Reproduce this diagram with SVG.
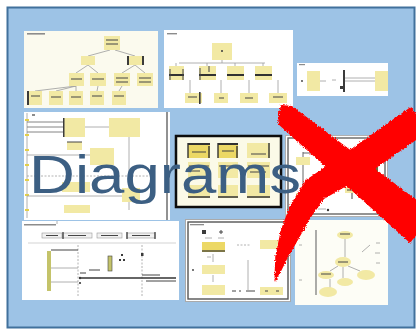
<svg xmlns="http://www.w3.org/2000/svg" width="416" height="330" viewBox="0 0 416 330">
  <style>
    .pane { fill: #ffffff; }
    .cream { fill: #fbfaee; }
    .bx { fill: #f2e9a4; }
    .bxs { fill: #ecd865; }
    .dk { fill: #3a3a3a; }
    .gr { fill: #8c8c8c; }
    .ln { stroke: #9c9c9c; stroke-width: 0.8; fill: none; }
    .lnd { stroke: #444; stroke-width: 1; fill: none; }
    .dash { stroke: #a0a0a0; stroke-width: 0.8; stroke-dasharray: 2 1.5; fill: none; }
    .brush { fill: #ff0000; }
    .title { font-family: "Liberation Sans", Arial, sans-serif; font-size: 54px; fill: #3c5f83; }
  </style>
  <defs>
    <filter id="soft" x="-5%" y="-5%" width="110%" height="110%">
      <feGaussianBlur stdDeviation="0.45"/>
    </filter>
    <filter id="rough" x="-10%" y="-10%" width="120%" height="120%">
      <feTurbulence type="fractalNoise" baseFrequency="0.7" numOctaves="2" seed="3" result="n"/>
      <feDisplacementMap in="SourceGraphic" in2="n" scale="3.5" xChannelSelector="R" yChannelSelector="G"/>
    </filter>
  </defs>

  <!-- background panel -->
  <rect x="7.5" y="7.5" width="407" height="320" fill="#9dc3e6" stroke="#41719c" stroke-width="2"/>

  <!-- tree diagram -->
  <g id="thumb-tree" filter="url(#soft)">
    <rect class="cream" x="24" y="31" width="134" height="77"/>
    <rect class="gr" x="27" y="33" width="18" height="1.6"/>
    <path class="ln" d="M110 50 L88 56 M115 50 L135 56 M88 65 L76 73 M88 65 L98 73 M135 65 L122 73 M135 65 L145 73 M76 86 L35 91 M76 86 L56 91 M76 86 L76 91 M98 86 L97 91 M122 86 L119 91"/>
    <rect class="bx" x="104" y="36" width="16" height="14"/>
    <path class="lnd" d="M106 40 H118 M106 44 H118"/>
    <rect class="bx" x="81" y="56" width="14" height="9"/>
    <rect class="bx" x="127" y="56" width="17" height="9"/>
    <rect class="dk" x="127" y="56" width="2" height="9"/>
    <rect class="dk" x="142" y="56" width="2" height="9"/>
    <rect class="bx" x="69" y="73" width="15" height="13"/>
    <rect class="bx" x="90" y="73" width="16" height="13"/>
    <rect class="bx" x="114" y="73" width="16" height="13"/>
    <rect class="bx" x="137" y="73" width="16" height="13"/>
    <path class="lnd" d="M71 79 H82 M92 79 H104 M116 78 H128 M116 82 H128 M139 78 H151 M139 82 H151"/>
    <rect class="bx" x="27" y="91" width="15" height="14"/>
    <rect class="bx" x="49" y="91" width="14" height="14"/>
    <rect class="bx" x="69" y="91" width="14" height="14"/>
    <rect class="bx" x="90" y="91" width="14" height="14"/>
    <rect class="bx" x="112" y="91" width="14" height="14"/>
    <rect class="dk" x="27" y="91" width="2" height="14"/>
    <path class="lnd" d="M31 96 H40 M51 97 H61 M71 97 H81 M92 96 H102 M114 96 H124"/>
  </g>

  <!-- class hierarchy -->
  <g id="thumb-hierarchy" filter="url(#soft)">
    <rect class="pane" x="164" y="30" width="129" height="78"/>
    <rect class="gr" x="167" y="33" width="10" height="1.4"/>
    <rect class="bx" x="212" y="43" width="20" height="17"/>
    <circle class="dk" cx="222" cy="51" r="1"/>
    <path class="ln" d="M222 60 V63 M179 63 H265 M176 63 V66 M207 63 V66 M235 63 V66 M263 63 V66 M190 80 V93 M221 80 V93 M249 80 V93 M278 80 V93"/>
    <rect class="bx" x="169" y="66" width="15" height="14"/>
    <rect class="bx" x="199" y="66" width="17" height="14"/>
    <rect class="bx" x="227" y="66" width="17" height="14"/>
    <rect class="bx" x="255" y="66" width="17" height="14"/>
    <path d="M169 75 H184 M199 75 H216 M227 75 H244 M255 75 H272" stroke="#333" stroke-width="2"/>
    <path class="lnd" d="M170 69 V80 M183 69 V80 M200 68 V80 M209 66 V72"/>
    <rect class="bx" x="185" y="93" width="17" height="10"/>
    <rect class="bx" x="214" y="93" width="14" height="10"/>
    <rect class="bx" x="240" y="93" width="18" height="10"/>
    <rect class="bx" x="269" y="93" width="18" height="10"/>
    <rect class="dk" x="199" y="92" width="1.6" height="12"/>
    <path class="lnd" d="M188 97 H197 M219 98 H224 M245 98 H253 M273 97 H283"/>
  </g>

  <!-- small flow strip -->
  <g id="thumb-flow" filter="url(#soft)">
    <rect class="pane" x="297" y="63" width="91" height="33"/>
    <rect class="gr" x="299" y="64" width="6" height="1.2"/>
    <rect class="bx" x="307" y="71" width="13" height="20"/>
    <circle class="dk" cx="302" cy="81" r="0.9"/>
    <path class="ln" d="M320 81 H326 M332 80 H336"/>
    <rect class="dk" x="343" y="70" width="2" height="22"/>
    <rect class="dk" x="340" y="86" width="3" height="3"/>
    <path class="ln" d="M345 78 H375 M345 81 H375"/>
    <rect class="bx" x="375" y="71" width="13" height="20"/>
  </g>

  <!-- activity / lane diagram -->
  <g id="thumb-lanes" filter="url(#soft)">
    <rect class="pane" x="24" y="112" width="146" height="108"/>
    <rect class="gr" x="32" y="114" width="3" height="2"/>
    <path class="ln" d="M27 113 V218"/>
    <path d="M25 120 H29 M25 135 H29 M25 150 H29 M25 165 H29 M25 180 H29 M25 195 H29 M25 210 H29" stroke="#e2cf4c" stroke-width="2"/>
    <path d="M27 122 H64 M27 127 H64 M27 132 H64" stroke="#777" stroke-width="0.9"/>
    <path class="ln" d="M85 127 H109 M27 155 H90 M27 196 H122 M129 137 V210"/>
    <path class="dash" d="M27 176 H150"/>
    <rect class="bx" x="64" y="118" width="21" height="19"/>
    <rect class="dk" x="63" y="118" width="1.5" height="19"/>
    <rect class="bx" x="109" y="118" width="31" height="19"/>
    <rect class="bx" x="67" y="142" width="15" height="8"/>
    <path class="lnd" d="M67 142 H82"/>
    <rect class="bx" x="90" y="148" width="24" height="17"/>
    <rect class="bx" x="62" y="182" width="28" height="10"/>
    <rect class="bx" x="122" y="188" width="18" height="14"/>
    <rect class="bx" x="64" y="205" width="26" height="8"/>
    <path d="M167 112 V220" stroke="#777" stroke-width="1.6"/>
  </g>

  <!-- framed class grid -->
  <g id="thumb-grid" filter="url(#soft)">
    <rect x="176" y="136" width="105" height="71" fill="#fbfae8" stroke="#111" stroke-width="2.5"/>
    <rect class="bxs" x="188" y="143" width="22" height="15"/>
    <rect class="bxs" x="218" y="143" width="20" height="15"/>
    <rect class="bx" x="247" y="143" width="23" height="15"/>
    <path d="M188 144 H210 M218 144 H238" stroke="#333" stroke-width="2"/>
    <path d="M188 143 V158 M209 146 V158 M218 143 V158 M237 146 V158 M269 143 V158" stroke="#333" stroke-width="1.4"/>
    <path class="lnd" d="M192 152 H206 M222 151 H234 M251 154 H266"/>
    <rect class="bx" x="188" y="162" width="22" height="16"/>
    <rect class="bx" x="218" y="162" width="20" height="16"/>
    <rect class="bx" x="247" y="162" width="23" height="16"/>
    <path class="lnd" d="M189 166 H209 M219 166 H237 M248 166 H269 M190 171 H200 M250 172 H266"/>
    <rect class="bx" x="188" y="185" width="22" height="13"/>
    <rect class="bx" x="218" y="185" width="20" height="13"/>
    <rect class="bx" x="247" y="185" width="23" height="13"/>
    <path d="M188 197 H210 M218 197 H238 M247 197 H270" stroke="#333" stroke-width="1.5"/>
  </g>

  <!-- framed component sketch -->
  <g id="thumb-component" filter="url(#soft)">
    <rect x="285.5" y="135.5" width="102" height="81" fill="#ffffff" stroke="#b0b0b0" stroke-width="1"/>
    <rect x="288" y="138" width="97" height="76" fill="none" stroke="#666" stroke-width="1.4"/>
    <path d="M303 152 V210 M303 153 H375" stroke="#666" stroke-width="1"/>
    <rect class="bx" x="296" y="157" width="14" height="8"/>
    <rect class="bx" x="296" y="193" width="14" height="9"/>
    <rect class="bx" x="345" y="187" width="15" height="6"/>
    <path class="lnd" d="M347 190 H358 M352 193 V199"/>
    <rect x="367" y="167" width="11" height="5" fill="#6a6a40"/>
    <path class="ln" d="M318 209 H326"/>
    <circle class="dk" cx="328" cy="210" r="1.2"/>
  </g>

  <!-- sequence diagram -->
  <g id="thumb-sequence" filter="url(#soft)">
    <rect class="pane" x="22" y="221" width="157" height="79"/>
    <rect class="gr" x="24" y="224" width="32" height="1.5"/>
    <path class="ln" d="M57 221 V224"/>
    <rect x="42" y="233" width="20" height="5" fill="#f1f1f1" stroke="#999" stroke-width="0.6"/>
    <rect x="63" y="233" width="29" height="5" fill="#f1f1f1" stroke="#999" stroke-width="0.6"/>
    <rect x="97" y="233" width="25" height="5" fill="#f1f1f1" stroke="#999" stroke-width="0.6"/>
    <rect x="127" y="233" width="28" height="5" fill="#f1f1f1" stroke="#999" stroke-width="0.6"/>
    <path d="M63 232 V239 M127 232 V239 M155 232 V239" stroke="#333" stroke-width="1.2"/>
    <path class="lnd" d="M46 235.5 H58 M68 235.5 H86 M101 235.5 H118 M132 235.5 H150"/>
    <path d="M28 243 H176" stroke="#c8c8c8" stroke-width="0.8"/>
    <path class="dash" d="M78 245 V296 M142 245 V296"/>
    <rect x="47" y="251" width="4" height="40" fill="#c4c36a"/>
    <path class="lnd" d="M51 250 H78"/>
    <path class="ln" d="M51 268 H78 M51 282 H78"/>
    <rect x="108" y="256" width="4" height="15" fill="#c4c36a" stroke="#444" stroke-width="0.6"/>
    <rect class="dk" x="121" y="254" width="2" height="2"/>
    <rect class="dk" x="119" y="259" width="2" height="2"/>
    <rect class="dk" x="123" y="259" width="2" height="2"/>
    <rect class="dk" x="141" y="253" width="2.5" height="3"/>
    <path class="lnd" d="M80 273 H86 M89 270 H100"/>
    <path d="M80 278 H176" stroke="#333" stroke-width="1.4"/>
    <path class="lnd" d="M142 275 H160 M146 281 H176"/>
    <circle class="dk" cx="80" cy="278" r="1.2"/>
    <circle class="dk" cx="80" cy="283" r="1.1"/>
  </g>

  <!-- framed structure sketch -->
  <g id="thumb-structure" filter="url(#soft)">
    <rect x="185.5" y="219.5" width="105" height="82" fill="#ffffff" stroke="#aaaaaa" stroke-width="1"/>
    <rect x="188" y="222" width="100" height="77" fill="none" stroke="#555" stroke-width="1.4"/>
    <rect class="gr" x="190" y="224" width="14" height="1.3"/>
    <rect class="dk" x="202" y="230" width="4" height="4"/>
    <path class="lnd" d="M221 230 V234 M219 232 H223"/>
    <path class="ln" d="M205 238 H212 M218 238 H224"/>
    <rect class="bxs" x="202" y="242" width="23" height="10"/>
    <path d="M202 251 H225" stroke="#333" stroke-width="1.2"/>
    <path class="dash" d="M237 245 H250"/>
    <rect class="bx" x="260" y="240" width="20" height="9"/>
    <path class="ln" d="M213 254 V262 M207 257 H211"/>
    <rect class="bx" x="202" y="265" width="23" height="9"/>
    <circle class="dk" cx="193" cy="270" r="0.9"/>
    <path class="ln" d="M213 275 V282 M248 260 V290"/>
    <rect class="bx" x="202" y="285" width="23" height="10"/>
    <path class="lnd" d="M232 291 H236 M239 291 H241 M246 291 H255"/>
    <rect class="bx" x="260" y="287" width="23" height="8"/>
    <path class="lnd" d="M265 291 H268 M276 291 H279"/>
  </g>

  <!-- state diagram -->
  <g id="thumb-states" filter="url(#soft)">
    <rect x="295" y="220" width="93" height="85" fill="#fdfdf6"/>
    <path d="M316 230 V295" stroke="#888" stroke-width="1.4"/>
    <path class="ln" d="M345 239 V257 M338 266 L330 271 M348 266 L360 271 M343 267 V278 M330 279 L330 288"/>
    <ellipse class="bx" cx="345" cy="235" rx="8" ry="4"/>
    <ellipse class="bx" cx="343" cy="262" rx="8" ry="5"/>
    <ellipse class="bx" cx="326" cy="275" rx="8" ry="4"/>
    <ellipse class="bx" cx="345" cy="282" rx="8" ry="4"/>
    <ellipse class="bx" cx="366" cy="275" rx="9" ry="5"/>
    <ellipse class="bx" cx="328" cy="292" rx="9" ry="5"/>
    <path class="lnd" d="M340 234 H350 M338 262 H348 M321 274 H331"/>
    <path class="ln" d="M299 245 H302 M299 280 H302 M376 243 H380 M375 253 H380 M376 263 H380 M370 245 L362 252"/>
  </g>

  <!-- heading -->
  <g id="heading">
    <text class="title" x="29" y="193" textLength="272" lengthAdjust="spacingAndGlyphs">Diagrams</text>
  </g>

  <!-- red cross brush strokes -->
  <g id="cross" filter="url(#rough)">
    <path class="brush" d="M281 105 L292 106 L434 213 L410 243 L278 124 L279 113 Z"/>
    <path class="brush" d="M411 106.7 L351.4 148.7 L306 180 L289.8 205.7 L280.8 230.2 L275.3 256.2 L274.5 277.6 L276 282 L277.5 278.4 L286.7 259.8 L299.2 237.8 L310.2 218.3 L324 199 L368.6 173.3 L428.6 131.3 Z"/>
  </g>
</svg>
